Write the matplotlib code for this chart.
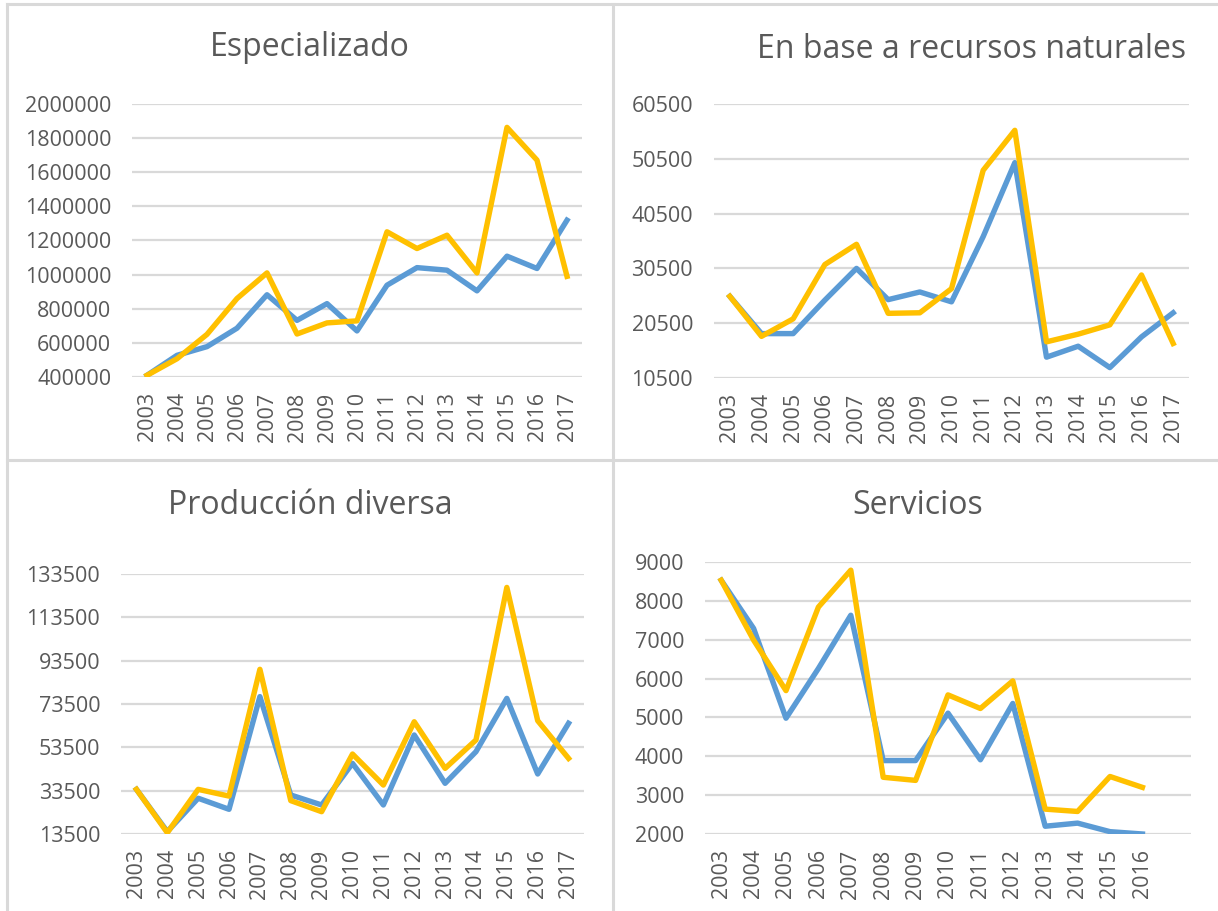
import matplotlib
matplotlib.use("Agg")
import matplotlib.pyplot as plt
from matplotlib.lines import Line2D
from matplotlib.ticker import FormatStrFormatter

plt.rcParams['font.family'] = ['Open Sans', 'DejaVu Sans']

#--------datos--------
years = ['2003', '2004', '2005', '2006', '2007', '2008', '2009', '2010',
         '2011', '2012', '2013', '2014', '2015', '2016', '2017']
years_serv = years[:-1] + ['']   # ultima categoria sin etiqueta ni datos

esp_azul = [410000, 527000, 578000, 686000, 882000, 732000, 830000, 670000,
            938000, 1041000, 1026000, 905000, 1108000, 1036000, 1319000]
esp_amarillo = [410000, 507000, 650000, 860000, 1010000, 652000, 717000, 729000,
                1251000, 1153000, 1231000, 1010000, 1863000, 1671000, 990000]

rec_azul = [25400, 18600, 18600, 24700, 30500, 24800, 26200, 24400,
            36300, 49800, 14300, 16300, 12400, 18000, 22400]
rec_amarillo = [25400, 18100, 21300, 31200, 34900, 22300, 22400, 26800,
                48400, 55700, 17100, 18500, 20200, 29300, 16800]

div_azul = [34100, 14600, 30000, 24900, 76900, 31500, 26900, 46100,
            26900, 59200, 36900, 51500, 76100, 41200, 64600]
div_amarillo = [34100, 14100, 34100, 31000, 89500, 28900, 23800, 50400,
                36100, 65300, 43800, 56900, 127300, 65800, 48400]

serv_azul = [8530, 7290, 4980, 6260, 7630, 3890, 3890, 5110,
             3910, 5360, 2200, 2280, 2060, 2000]
serv_amarillo = [8530, 6990, 5690, 7840, 8790, 3460, 3380, 5580,
                 5230, 5940, 2640, 2580, 3480, 3200]

AZUL = '#5B9BD5'
AMARILLO = '#FFC000'
GRIS = '#D9D9D9'
TEXTO = '#595959'

W, H = 1218, 911
fig = plt.figure(figsize=(W / 100, H / 100), dpi=100)


def px_axes(x0, y0, x1, y1):
    # caja en pixeles (origen arriba a la izquierda) -> fraccion de figura
    return fig.add_axes([x0 / W, 1 - y1 / H, (x1 - x0) / W, (y1 - y0) / H])


def panel(box, labels, azul, amarillo, ymin, ymax, step, title, title_xy):
    ax = px_axes(*box)
    ax.plot(range(len(azul)), azul, color=AZUL, lw=3.9, solid_joinstyle='round', zorder=3)
    ax.plot(range(len(amarillo)), amarillo, color=AMARILLO, lw=3.9, solid_joinstyle='round', zorder=4)
    ax.set_xlim(-0.5, len(labels) - 0.5)
    ax.set_ylim(ymin, ymax)
    ax.set_xticks(range(len(labels)))
    ax.set_xticklabels(labels, rotation=90)
    ax.set_yticks(range(ymin, ymax + 1, step))
    ax.yaxis.set_major_formatter(FormatStrFormatter('%d'))
    ax.yaxis.grid(True, color=GRIS, lw=1.6)
    ax.set_axisbelow(True)
    for s in ax.spines.values():
        s.set_visible(False)
    ax.tick_params(axis='both', length=0, labelsize=15.5, colors=TEXTO)
    ax.tick_params(axis='x', pad=11)
    ax.tick_params(axis='y', pad=15)
    fig.text(title_xy[0] / W, 1 - title_xy[1] / H, title, fontsize=23,
             color=TEXTO, ha='center', va='center')
    return ax


panel((132, 104, 582, 377), years, esp_azul, esp_amarillo,
      400000, 2000000, 200000, 'Especializado', (310, 48))
panel((714, 104, 1189, 378), years, rec_azul, rec_amarillo,
      10500, 60500, 10000, 'En base a recursos naturales', (972, 50))
panel((121, 574, 584, 834), years, div_azul, div_amarillo,
      13500, 133500, 20000, 'Producción diversa', (310, 506))
panel((705, 562, 1191, 834), years_serv, serv_azul, serv_amarillo,
      2000, 9000, 1000, 'Servicios', (918, 506))

# bordes grises de los cuadros
bordes = [((7, 7), (4, H)), ((7, W), (4, 4)), ((613, 613), (4, H)), ((7, W), (460, 460))]
for xs, ys in bordes:
    fig.add_artist(Line2D([x / W for x in xs], [1 - y / H for y in ys],
                          color=GRIS, lw=2.2, transform=fig.transFigure))

fig.savefig('out.png', dpi=100)
